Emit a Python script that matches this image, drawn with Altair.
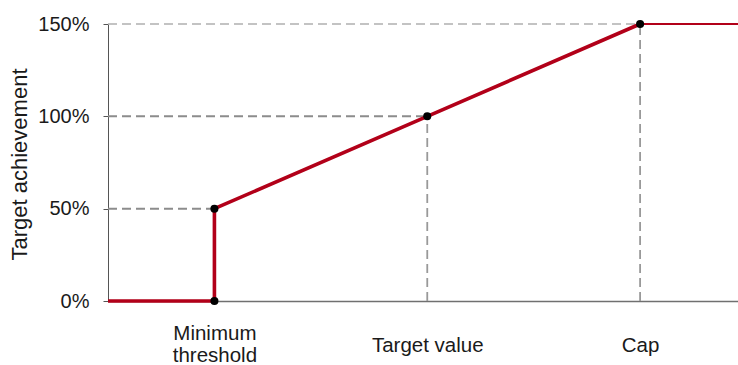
import altair as alt
import pandas as pd

# Payout curve: performance (% of target) vs. target achievement
curve_x = [25, 50, 50, 100, 150]
curve_y = [0.0, 0.0, 0.5, 1.0, 1.5]
cap_x = [150, 173]
cap_y = [1.5, 1.5]

point_x = [50, 50, 100, 150]
point_y = [0.0, 0.5, 1.0, 1.5]

x_ticks = [50, 100, 150]
x_labels = [["Minimum", "threshold"], "Target value", "Cap"]
y_ticks = [0.0, 0.5, 1.0, 1.5]

X_MIN, X_MAX = 25, 173
RED = "#b20019"
FONT = "Liberation Sans"

curve = pd.DataFrame({"x": curve_x, "y": curve_y})
cap = pd.DataFrame({"x": cap_x, "y": cap_y})
points = pd.DataFrame({"x": point_x, "y": point_y})

# guide lines from the axes to each kink of the curve
h_guides = pd.DataFrame({"x": [X_MIN, X_MIN], "x2": [50, 100], "y": [0.5, 1.0]})
h_top = pd.DataFrame({"x": [X_MIN], "x2": [150], "y": [1.5]})
v_guides = pd.DataFrame({"x": [100, 150], "y": [0.0, 0.0], "y2": [1.0, 1.5]})


def label_expr(values, labels):
    expr = "''"
    for v, lab in reversed(list(zip(values, labels))):
        if isinstance(lab, list):
            txt = "[" + ", ".join("'" + s + "'" for s in lab) + "]"
        else:
            txt = "'" + lab + "'"
        expr = f"datum.value == {v} ? {txt} : {expr}"
    return expr


# two-line labels sit higher so every label block is centred on the same line
multi_line = [v for v, lab in zip(x_ticks, x_labels) if isinstance(lab, list)]
multi_test = " || ".join(f"datum.value == {v}" for v in multi_line) or "false"

x_scale = alt.Scale(domain=[X_MIN, X_MAX], nice=False, zero=False)
y_scale = alt.Scale(domain=[0, 1.5], nice=False)

x_axis = alt.Axis(
    values=x_ticks,
    labelExpr=label_expr(x_ticks, x_labels),
    ticks=False,
    tickSize=0,
    grid=False,
    title=None,
    domainColor="#707070",
    domainWidth=1.5,
    labelFont=FONT,
    labelFontSize=20.5,
    labelColor="#1a1a1a",
    labelBaseline="middle",
    labelLineHeight=22,
    labelPadding={"condition": {"test": multi_test, "value": 32}, "value": 44},
    labelFlush=False,
    labelOverlap=False,
)
y_axis = alt.Axis(
    values=y_ticks,
    format=".0%",
    grid=False,
    tickSize=5,
    tickColor="#555555",
    domainColor="#555555",
    domainWidth=1,
    labelFont=FONT,
    labelFontSize=20,
    labelColor="#1a1a1a",
    labelPadding=14,
    title="Target achievement",
    titleFont=FONT,
    titleFontSize=22,
    titleFontWeight="normal",
    titleColor="#1a1a1a",
    titleAngle=-90,
    titleBaseline="middle",
    titleAlign="center",
    titleX=-89,
    titleY=140,
)

Y = alt.Y("y:Q", scale=y_scale, axis=y_axis)
dash = [9, 5]

h_lines = alt.Chart(h_guides).mark_rule(
    color="#8c8c8c", strokeWidth=2, strokeDash=dash
).encode(x=alt.X("x:Q", scale=x_scale, axis=x_axis), x2="x2:Q", y=Y)

h_top_line = alt.Chart(h_top).mark_rule(
    color="#b0b0b0", strokeWidth=1.6, strokeDash=dash
).encode(x="x:Q", x2="x2:Q", y="y:Q")

v_lines = alt.Chart(v_guides).mark_rule(
    color="#999999", strokeWidth=1.8, strokeDash=dash
).encode(x="x:Q", y="y:Q", y2="y2:Q")

curve_line = alt.Chart(curve).mark_line(
    color=RED, strokeWidth=3.6, strokeJoin="round"
).encode(x="x:Q", y="y:Q", order=alt.Order("idx:Q")).transform_window(
    idx="row_number()"
)

cap_line = alt.Chart(cap).mark_line(color=RED, strokeWidth=2.2).encode(
    x="x:Q", y="y:Q"
)

dots = alt.Chart(points).mark_point(
    filled=True, color="#000000", size=65, opacity=1
).encode(x="x:Q", y="y:Q")

chart = (
    alt.layer(h_lines, h_top_line, v_lines, cap_line, curve_line, dots)
    .properties(
        width=630,
        height=277,
        autosize=alt.AutoSizeParams(type="none"),
        padding={"left": 108, "top": 24, "right": 0, "bottom": 64},
        background="#ffffff",
    )
    .configure_view(stroke=None)
)

chart.save("out.html", embed_options={"renderer": "svg", "actions": False})
